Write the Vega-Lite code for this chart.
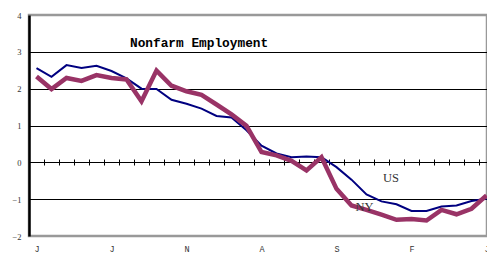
{
  "$schema": "https://vega.github.io/schema/vega-lite/v6.json",
  "width": 458,
  "height": 221,
  "autosize": {"type": "none"},
  "padding": {"left": 29, "top": 15, "right": 0, "bottom": 17},
  "background": "white",
  "config": {"view": {"stroke": "#999999", "strokeWidth": 2.5}},
  "datasets": {
    "emp": [
      {"i": 0, "US": 2.56, "NY": 2.33},
      {"i": 1, "US": 2.32, "NY": 1.99},
      {"i": 2, "US": 2.64, "NY": 2.29},
      {"i": 3, "US": 2.56, "NY": 2.21},
      {"i": 4, "US": 2.62, "NY": 2.37},
      {"i": 5, "US": 2.48, "NY": 2.29},
      {"i": 6, "US": 2.28, "NY": 2.25},
      {"i": 7, "US": 2.0, "NY": 1.66},
      {"i": 8, "US": 1.99, "NY": 2.49},
      {"i": 9, "US": 1.7, "NY": 2.08},
      {"i": 10, "US": 1.59, "NY": 1.93},
      {"i": 11, "US": 1.46, "NY": 1.83},
      {"i": 12, "US": 1.26, "NY": 1.57},
      {"i": 13, "US": 1.22, "NY": 1.3},
      {"i": 14, "US": 0.87, "NY": 0.99},
      {"i": 15, "US": 0.45, "NY": 0.28},
      {"i": 16, "US": 0.24, "NY": 0.19},
      {"i": 17, "US": 0.14, "NY": 0.04},
      {"i": 18, "US": 0.16, "NY": -0.22},
      {"i": 19, "US": 0.14, "NY": 0.14},
      {"i": 20, "US": -0.13, "NY": -0.72},
      {"i": 21, "US": -0.47, "NY": -1.17},
      {"i": 22, "US": -0.87, "NY": -1.29},
      {"i": 23, "US": -1.06, "NY": -1.42},
      {"i": 24, "US": -1.14, "NY": -1.56},
      {"i": 25, "US": -1.32, "NY": -1.54},
      {"i": 26, "US": -1.32, "NY": -1.58},
      {"i": 27, "US": -1.2, "NY": -1.29},
      {"i": 28, "US": -1.17, "NY": -1.41},
      {"i": 29, "US": -1.05, "NY": -1.26},
      {"i": 30, "US": -0.99, "NY": -0.9}
    ],
    "notes": [
      {"x": 6.23, "y": 3.13, "label": "Nonfarm Employment"}
    ],
    "series": [
      {"x": 23.63, "y": -0.53, "label": "US"},
      {"x": 21.87, "y": -1.33, "label": "NY"}
    ]
  },
  "layer": [
    {
      "data": {"name": "emp"},
      "mark": {"type": "line", "color": "#000080", "strokeWidth": 2},
      "encoding": {
        "x": {
          "field": "i", "type": "quantitative",
          "scale": {"domain": [-0.5, 30.0333], "nice": false, "zero": false},
          "axis": {
            "orient": "bottom", "title": null,
            "values": [0, 5, 10, 15, 20, 25, 30],
            "labelExpr": "['J','F','M','A','M','J','J','A','S','O','N','D'][datum.value % 12]",
            "domain": false, "ticks": false, "tickSize": 0, "grid": false,
            "labelFont": "Liberation Mono", "labelFontSize": 8.5, "labelColor": "#333333",
            "labelPadding": 8, "labelFlush": false, "labelOverlap": false, "labelBound": false
          }
        },
        "y": {
          "field": "US", "type": "quantitative",
          "scale": {"domain": [-2, 4], "nice": false, "zero": false},
          "axis": {
            "title": null,
            "values": [-2, -1, 0, 1, 2, 3, 4],
            "ticks": false,
            "domain": true,
            "domainColor": "#000000", "domainWidth": 2.5, "domainOpacity": 1,
            "labelFont": "Liberation Serif", "labelFontSize": 8.5, "labelColor": "#333333",
            "labelPadding": 8, "labelOverlap": false,
            "grid": true,
            "gridColor": "#000000",
            "gridWidth": 1,
            "gridOpacity": {"condition": {"test": "datum.value == 4 || datum.value == -2", "value": 0}, "value": 1}
          }
        }
      }
    },
    {
      "data": {"name": "emp"},
      "mark": {"type": "line", "color": "#993366", "strokeWidth": 4.5},
      "encoding": {
        "x": {"field": "i", "type": "quantitative", "axis": null},
        "y": {"field": "NY", "type": "quantitative", "axis": null}
      }
    },
    {
      "data": {"name": "notes"},
      "mark": {"type": "text", "align": "left", "baseline": "alphabetic", "font": "Liberation Mono", "fontWeight": "bold", "fontSize": 12.8, "color": "black"},
      "encoding": {
        "x": {
          "field": "x", "type": "quantitative",
          "axis": {
            "orient": "top", "offset": -150, "title": null,
            "values": [-0.5, 0.5, 1.5, 2.5, 3.5, 4.5, 5.5, 6.5, 7.5, 8.5, 9.5, 10.5, 11.5, 12.5, 13.5, 14.5, 15.5, 16.5, 17.5, 18.5, 19.5, 20.5, 21.5, 22.5, 23.5, 24.5, 25.5, 26.5, 27.5, 28.5, 29.5],
            "labels": false, "domain": false, "grid": false,
            "ticks": true, "tickSize": 6, "tickColor": "black", "tickWidth": 1
          }
        },
        "y": {"field": "y", "type": "quantitative", "axis": null},
        "text": {"field": "label"}
      }
    },
    {
      "data": {"name": "series"},
      "mark": {"type": "text", "align": "center", "baseline": "alphabetic", "font": "Liberation Serif", "fontSize": 12.5, "color": "#333333"},
      "encoding": {
        "x": {"field": "x", "type": "quantitative", "axis": null},
        "y": {"field": "y", "type": "quantitative", "axis": null},
        "text": {"field": "label"}
      }
    }
  ],
  "resolve": {"axis": {"x": "independent", "y": "independent"}}
}
